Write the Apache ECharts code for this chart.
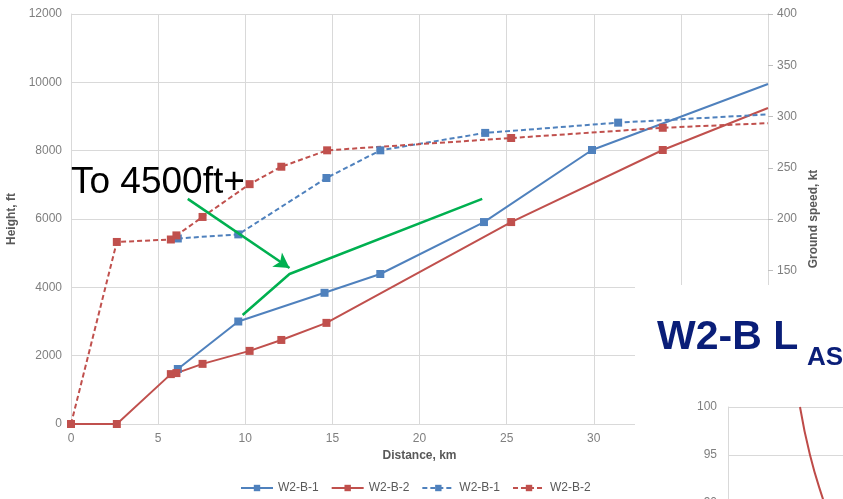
<!DOCTYPE html>
<html><head><meta charset="utf-8">
<script src="https://cdn.jsdelivr.net/npm/echarts@6/dist/echarts.min.js"></script>
<style>html,body{margin:0;padding:0;background:#fff}#c{width:843px;height:499px}</style>
</head><body><div id="c"></div>
<script>
// ---- data ----
const xTicks = [0, 5, 10, 15, 20, 25, 30, 35, 40];
const heightTicks = [0, 2000, 4000, 6000, 8000, 10000, 12000];
const speedTicks = [0, 50, 100, 150, 200, 250, 300, 350, 400];

const b1Dist   = [6.13, 9.6, 14.55, 17.75, 23.7, 29.9, 40];
const b1Height = [1610, 3000, 3840, 4390, 5910, 8020, 9950];

const b2Dist   = [0, 2.63, 5.73, 6.05, 7.55, 10.25, 12.07, 14.66, 25.26, 33.96, 40];
const b2Height = [0, 0, 1460, 1490, 1760, 2140, 2460, 2960, 5910, 8020, 9250];

const b1gsDist  = [6.13, 9.6, 14.66, 17.75, 23.77, 31.4, 40];
const b1gsSpeed = [181, 185, 240, 267, 284, 294, 302];

const b2gsDist  = [0, 2.63, 5.73, 6.05, 7.55, 10.25, 12.07, 14.7, 25.26, 33.96, 40];
const b2gsSpeed = [0, 177.6, 180, 184, 202, 234, 251, 267, 279, 289, 293.5];

const legendNames  = ['W2-B-1 h', 'W2-B-2 h', 'W2-B-1 gs', 'W2-B-2 gs'];
const legendLabels = ['W2-B-1', 'W2-B-2', 'W2-B-1', 'W2-B-2'];

// annotation (green) in chart coordinates: km, ft
const greenDist   = [9.85, 12.54, 23.6];
const greenHeight = [3190, 4390, 6590];
const arrowFrom = [6.7, 6590];
const arrowTo   = [12.54, 4566];

// inset chart (partially visible)
const insetX = [18, 20.5, 23.75, 27.5];
const insetY = [100, 95, 90.4, 85.8];

const blue = '#4F81BD', red = '#C0504D', green = '#00B050';
const font = 'Liberation Sans';
// last point of each series runs off the chart edge: no marker there
const zip = (a, b) => a.map((v, i) => i === a.length - 1 && v === 40
  ? {value: [v, b[i]], symbol: 'none'} : [v, b[i]]);

const chart = echarts.init(document.getElementById('c'), null, {renderer: 'canvas'});
const lbl = {color: '#7f7f7f', fontSize: 12, fontFamily: font, formatter: v => String(v)};
const nameStyle = {color: '#595959', fontSize: 12, fontWeight: 'bold', fontFamily: font};

chart.setOption({
  animation: false,
  backgroundColor: '#fff',
  textStyle: {fontFamily: font},
  grid: [
    {left: 71, top: 14, right: 75, bottom: 75, containLabel: false, outerBoundsMode: 'none'},
    {left: 728, top: 407, width: 400, height: 480, containLabel: false, outerBoundsMode: 'none'}
  ],
  xAxis: [
    {type: 'value', gridIndex: 0, min: 0, max: 40, interval: 5,
     name: 'Distance, km', nameLocation: 'middle', nameGap: 25, nameTextStyle: nameStyle,
     axisLine: {show: true, lineStyle: {color: '#d9d9d9'}}, axisTick: {show: false},
     axisLabel: Object.assign({margin: 9}, lbl),
     splitLine: {show: true, lineStyle: {color: '#d9d9d9', width: 1}}},
    {type: 'value', gridIndex: 1, min: 0, max: 100, show: false, z: 60}
  ],
  yAxis: [
    {type: 'value', gridIndex: 0, min: 0, max: 12000, interval: 2000,
     name: 'Height, ft', nameLocation: 'middle', nameGap: 41, nameRotate: 90, nameTextStyle: nameStyle,
     axisLine: {show: true, lineStyle: {color: '#d9d9d9'}}, axisTick: {show: false},
     axisLabel: Object.assign({margin: 9}, lbl),
     splitLine: {show: true, lineStyle: {color: '#d9d9d9', width: 1}}},
    {type: 'value', gridIndex: 0, position: 'right', min: 0, max: 400, interval: 50,
     name: 'Ground speed, kt', nameLocation: 'middle', nameGap: 31, nameRotate: 90, nameTextStyle: nameStyle,
     axisLine: {show: true, lineStyle: {color: '#d9d9d9'}},
     axisTick: {show: true, length: 5, lineStyle: {color: '#bfbfbf'}},
     axisLabel: Object.assign({margin: 9}, lbl),
     splitLine: {show: false}},
    {type: 'value', gridIndex: 1, min: 50, max: 100, interval: 5, z: 60,
     axisLine: {show: true, lineStyle: {color: '#d9d9d9'}}, axisTick: {show: false},
     axisLabel: Object.assign({margin: 11}, lbl),
     splitLine: {show: true, lineStyle: {color: '#d9d9d9'}}}
  ],
  legend: {
    data: legendNames, bottom: 0, left: 235, itemWidth: 32, itemHeight: 8, itemGap: 12,
    formatter: n => legendLabels[legendNames.indexOf(n)],
    textStyle: {color: '#595959', fontSize: 12, fontFamily: font}
  },
  series: [
    {name: legendNames[0], type: 'line', xAxisIndex: 0, yAxisIndex: 0, data: zip(b1Dist, b1Height),
     symbol: 'rect', symbolSize: 8, color: blue, lineStyle: {width: 2, color: blue}, itemStyle: {color: blue}},
    {name: legendNames[1], type: 'line', xAxisIndex: 0, yAxisIndex: 0, data: zip(b2Dist, b2Height),
     symbol: 'rect', symbolSize: 8, color: red, lineStyle: {width: 2, color: red}, itemStyle: {color: red}},
    {name: legendNames[2], type: 'line', xAxisIndex: 0, yAxisIndex: 1, data: zip(b1gsDist, b1gsSpeed),
     symbol: 'rect', symbolSize: 8, color: blue, lineStyle: {width: 2, color: blue, type: [5, 3]}, itemStyle: {color: blue}},
    {name: legendNames[3], type: 'line', xAxisIndex: 0, yAxisIndex: 1, data: zip(b2gsDist, b2gsSpeed),
     symbol: 'rect', symbolSize: 8, color: red, lineStyle: {width: 2, color: red, type: [5, 3]}, itemStyle: {color: red}},
    {name: 'annot', type: 'line', xAxisIndex: 0, yAxisIndex: 0, data: greenDist.map((v, i) => [v, greenHeight[i]]),
     symbol: 'none', z: 100, lineStyle: {width: 2.5, color: green}, silent: true,
     markLine: {silent: true, symbol: ['none', 'arrow'], symbolSize: [13, 15], label: {show: false},
       lineStyle: {color: green, width: 2.5, type: 'solid'},
       data: [[{coord: arrowFrom}, {coord: arrowTo}]]}},
    {name: 'inset', type: 'line', xAxisIndex: 1, yAxisIndex: 2, data: insetX.map((v, i) => [v, insetY[i]]), z: 60,
     symbol: 'none', smooth: true, lineStyle: {width: 2, color: '#be4b48'}}
  ],
  graphic: [
    {type: 'rect', z: 50, shape: {x: 635, y: 285, width: 220, height: 220}, style: {fill: '#fff'}},
    {type: 'text', z: 100, left: 71, top: 164, style: {text: 'To 4500ft+', fill: '#000', font: '37px "Liberation Sans"'}},
    {type: 'text', z: 100, left: 657, top: 317, style: {text: 'W2-B L', fill: '#0a1e78', font: 'bold 41px "Liberation Sans"'}},
    {type: 'text', z: 100, left: 807, top: 345, style: {text: 'AS', fill: '#0a1e78', font: 'bold 26px "Liberation Sans"'}}
  ]
});
</script></body></html>
